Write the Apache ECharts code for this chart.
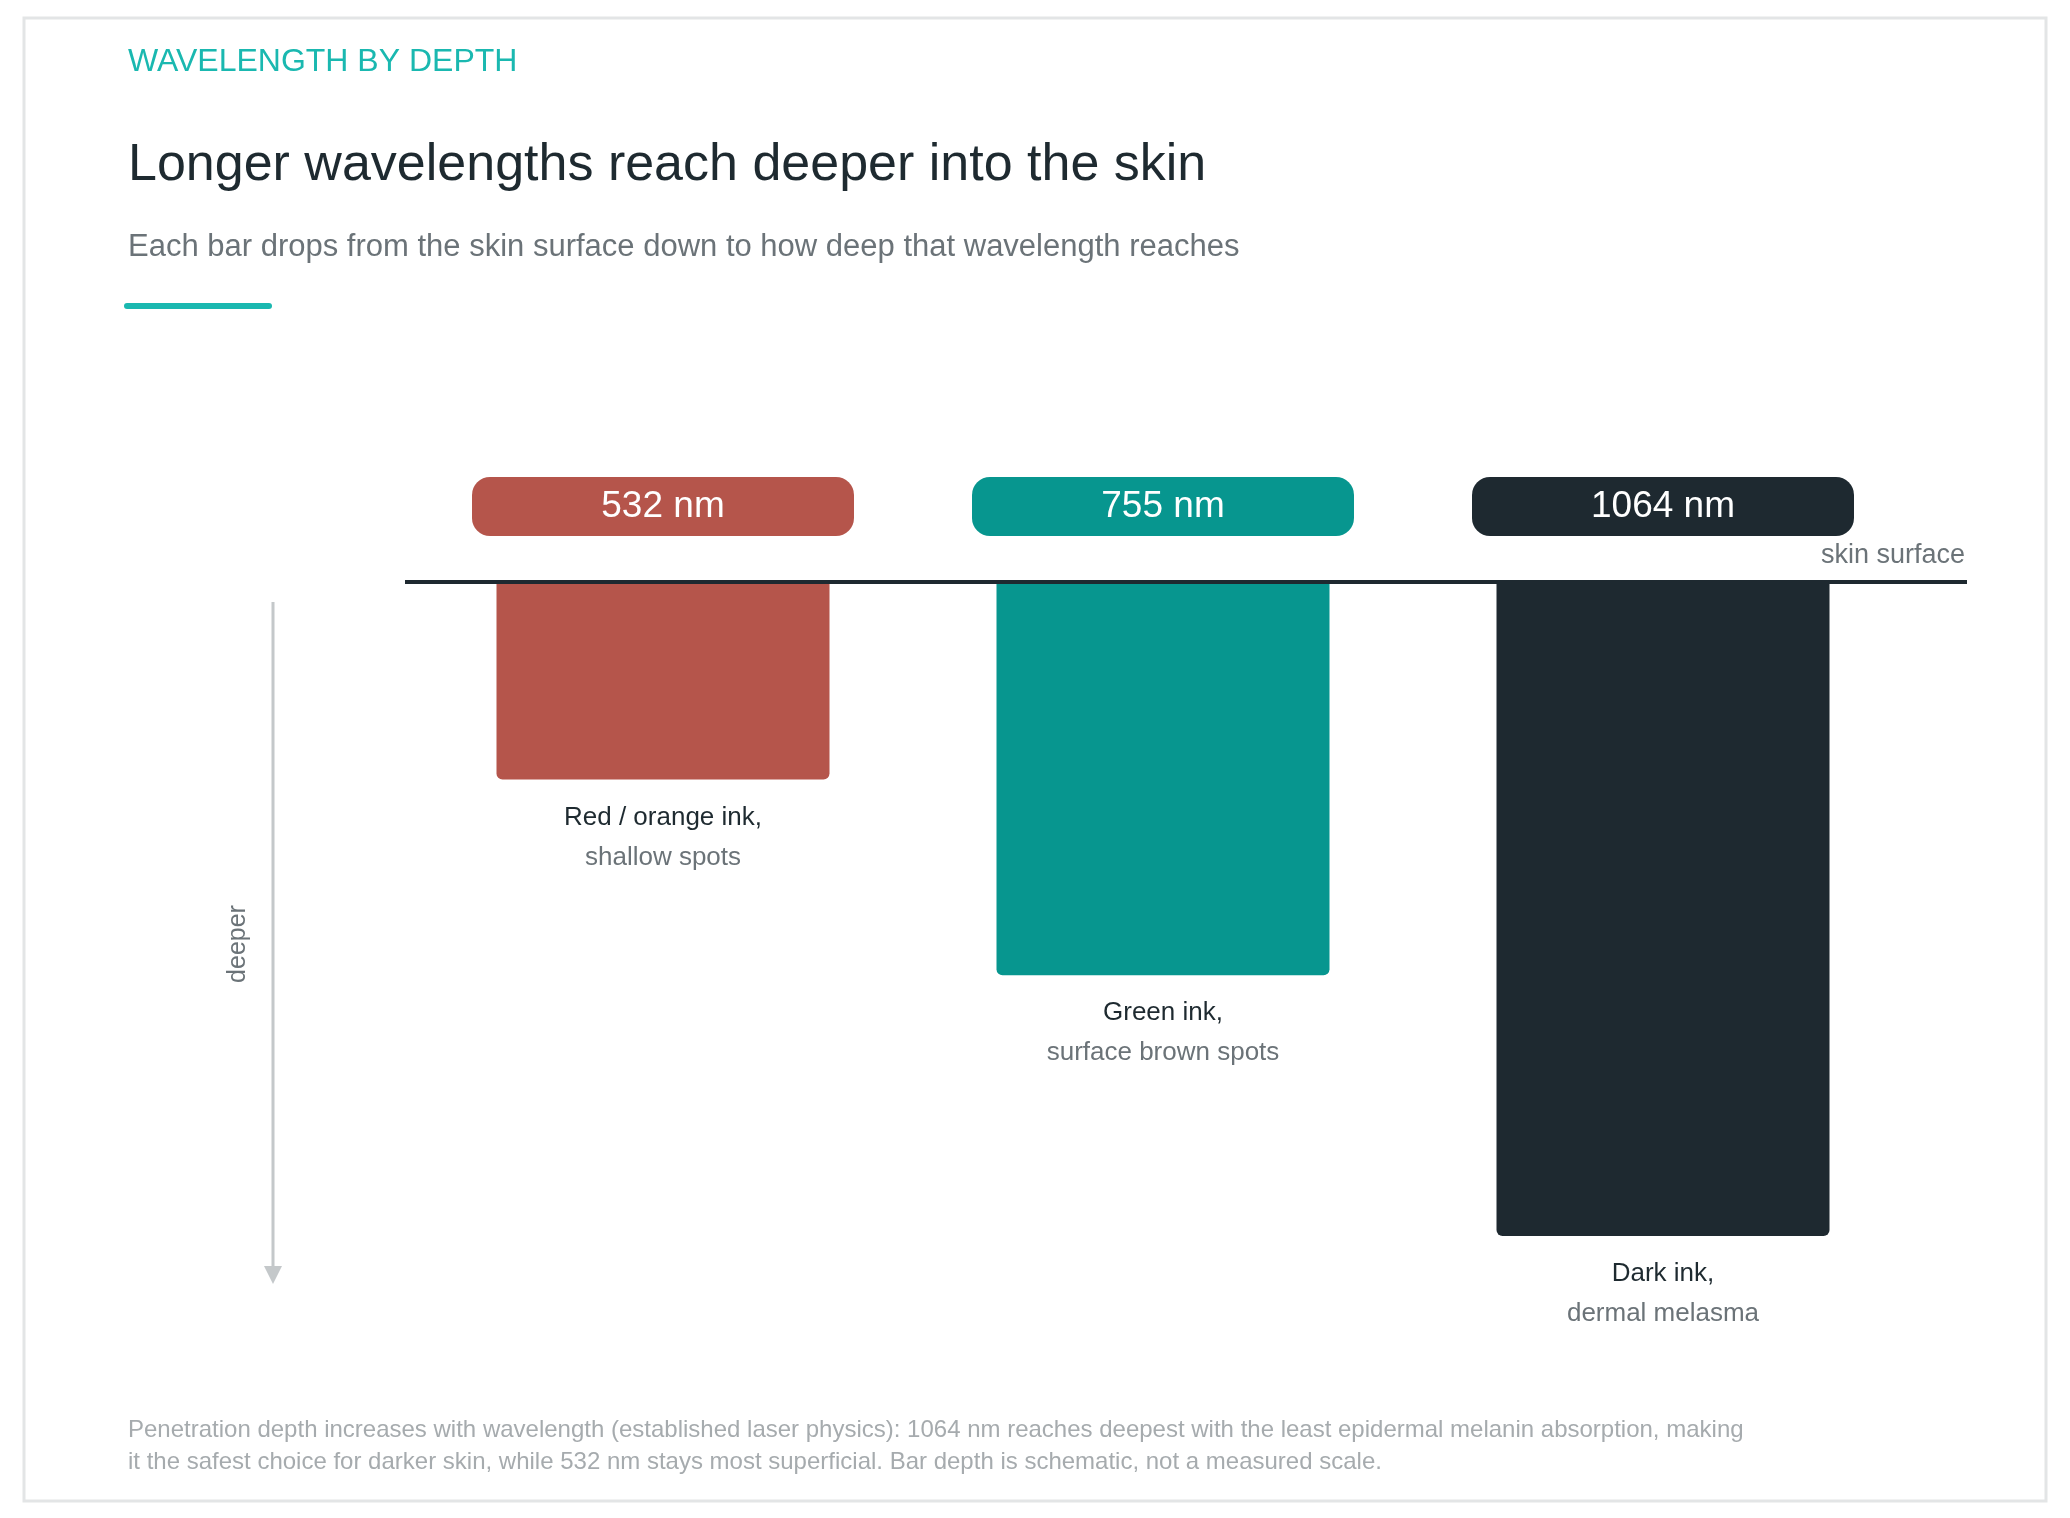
<!DOCTYPE html>
<html><head><meta charset="utf-8">
<script src="https://cdn.jsdelivr.net/npm/echarts@6/dist/echarts.min.js"></script>
<style>html,body{margin:0;background:#fff}#c{width:2070px;height:1518px}</style>
</head><body><div id="c"></div>
<script>
var wavelengths = ['532 nm', '755 nm', '1064 nm'];
var depths = [3, 6, 10];
var inkNames = ['Red / orange ink,', 'Green ink,', 'Dark ink,'];
var inkNotes = ['shallow spots', 'surface brown spots', 'dermal melasma'];
var colors = ['#b5554b', '#07968f', '#1e2930'];

var font = 'Helvetica, Arial, "Liberation Sans", sans-serif';
var chart = echarts.init(document.getElementById('c'));

var rich = {};
colors.forEach(function (c, i) {
    rich['p' + i] = {
        backgroundColor: c, color: '#fff', borderRadius: 18,
        width: 382, height: 59, align: 'center', fontSize: 37, fontFamily: font
    };
});

option = {
    animation: false,
    grid: { left: 413, right: 157, top: 584, height: 652 },
    xAxis: {
        type: 'category',
        position: 'top',
        data: wavelengths,
        axisLine: { show: false },
        axisTick: { show: false },
        axisLabel: {
            margin: 48,
            formatter: function (v, i) { return '{p' + i + '|' + v + '}'; },
            rich: rich
        }
    },
    yAxis: {
        type: 'value', inverse: true, min: 0, max: 10,
        show: false, splitLine: { show: false }
    },
    series: [{
        type: 'bar',
        barWidth: 333,
        data: depths.map(function (d, i) {
            return { value: d, itemStyle: { color: colors[i], borderRadius: [0, 0, 6, 6] } };
        }),
        label: {
            show: true, position: 'bottom', distance: 18,
            formatter: function (p) {
                return '{a|' + inkNames[p.dataIndex] + '}\n{b|' + inkNotes[p.dataIndex] + '}';
            },
            rich: {
                a: { fontSize: 26, color: '#1e2a30', lineHeight: 40, fontFamily: font, align: 'center' },
                b: { fontSize: 26, color: '#6b7378', lineHeight: 40, fontFamily: font, align: 'center' }
            }
        }
    }],
    graphic: [
        { type: 'rect', shape: { x: 24, y: 18, width: 2022, height: 1483 },
          style: { fill: 'none', stroke: '#e3e5e6', lineWidth: 3 }, z: -1 },
        { type: 'text', left: 128, top: 46, style: { text: 'WAVELENGTH BY DEPTH', fill: '#1ab8b0', font: '32px ' + font } },
        { type: 'text', left: 128, top: 140, style: { text: 'Longer wavelengths reach deeper into the skin', fill: '#1e2a30', font: '52px ' + font } },
        { type: 'text', left: 128, top: 232, style: { text: 'Each bar drops from the skin surface down to how deep that wavelength reaches', fill: '#6b7378', font: '31px ' + font } },
        { type: 'rect', shape: { x: 124, y: 303, width: 148, height: 6, r: 3 }, style: { fill: '#1ab8b0' } },
        { type: 'line', shape: { x1: 405, y1: 582, x2: 1967, y2: 582 }, style: { stroke: '#1e2930', lineWidth: 4 }, z: 10 },
        { type: 'text', right: 105, top: 542, style: { text: 'skin surface', fill: '#6b7378', font: '27px ' + font } },
        { type: 'line', shape: { x1: 273, y1: 602, x2: 273, y2: 1276 }, style: { stroke: '#c4c8ca', lineWidth: 3 } },
        { type: 'polygon', shape: { points: [[264, 1266], [282, 1266], [273, 1284]] }, style: { fill: '#c4c8ca' } },
        { type: 'text', x: 238, y: 944, rotation: Math.PI / 2,
          style: { text: 'deeper', fill: '#6b7378', font: '25px ' + font, align: 'center', verticalAlign: 'middle' } },
        { type: 'text', left: 128, top: 1414, style: {
            text: 'Penetration depth increases with wavelength (established laser physics): 1064 nm reaches deepest with the least epidermal melanin absorption, making\nit the safest choice for darker skin, while 532 nm stays most superficial. Bar depth is schematic, not a measured scale.',
            fill: '#a6abae', font: '24px ' + font, lineHeight: 32 } }
    ]
};
chart.setOption(option);
</script></body></html>
